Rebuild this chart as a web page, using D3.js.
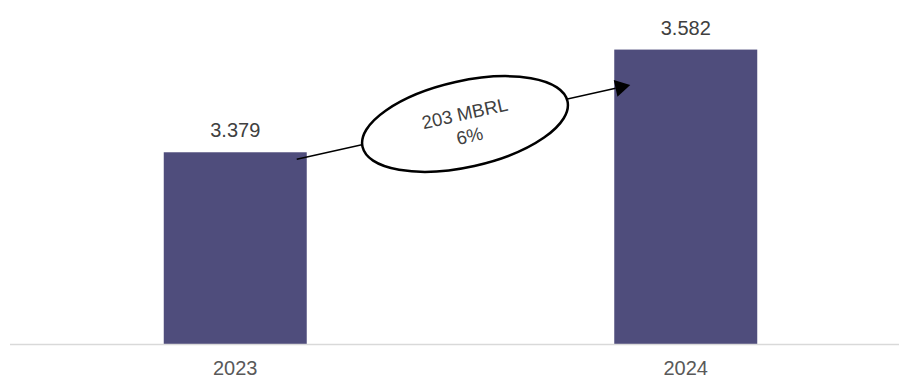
<!DOCTYPE html>
<html>
<head>
<meta charset="utf-8">
<script src="https://cdn.jsdelivr.net/npm/d3@7"></script>
<style>
  body { margin: 0; background: #fff; }
  svg { display: block; font-family: Arial, 'Liberation Sans', sans-serif; }
</style>
</head>
<body>
<svg id="chart" width="899" height="377"></svg>
<script>
let years = ['2023', '2024'];
let values = [3.379, 3.582];

let width = 899, height = 377;
let svg = d3.select('#chart');

let x = d3.scaleBand()
	.domain(years)
	.range([10, 911])
	.paddingInner(0.6826)
	.paddingOuter(0.3413);

let y = d3.scaleLinear()
	.domain([3.0, 3.68])
	.range([344, 0]);

let data = years.map(function (d, i) { return {year: d, value: values[i]}; });

// bars
svg.selectAll('.bar')
	.data(data)
	.enter().append('rect')
	.attr('class', 'bar')
	.attr('x', function (d) { return x(d.year); })
	.attr('y', function (d) { return y(d.value); })
	.attr('width', x.bandwidth())
	.attr('height', function (d) { return y(3.0) - y(d.value); })
	.attr('fill', '#4f4d7c');

// baseline
svg.append('line')
	.attr('x1', 10)
	.attr('x2', width)
	.attr('y1', y(3.0) + 0.5)
	.attr('y2', y(3.0) + 0.5)
	.attr('stroke', '#d9d9d9')
	.attr('stroke-width', 1.5);

// value labels
let fmt = d3.format('.3f');
svg.selectAll('.val')
	.data(data)
	.enter().append('text')
	.attr('class', 'val')
	.attr('x', function (d) { return x(d.year) + x.bandwidth() / 2; })
	.attr('y', function (d) { return y(d.value) - 15; })
	.attr('text-anchor', 'middle')
	.attr('font-size', 20)
	.attr('fill', '#404040')
	.text(function (d) { return fmt(d.value); });

// category labels
svg.selectAll('.year')
	.data(data)
	.enter().append('text')
	.attr('class', 'year')
	.attr('x', function (d) { return x(d.year) + x.bandwidth() / 2; })
	.attr('y', 374.5)
	.attr('text-anchor', 'middle')
	.attr('font-size', 20)
	.attr('fill', '#595959')
	.text(function (d) { return d.year; });

// growth arrow
let x0 = x(years[0]) + x.bandwidth() - 10, y0 = y(values[0]) + 7;
let x1 = x(years[1]) + 16, y1 = y(values[1]) + 35.5;
let ang = Math.atan2(y1 - y0, x1 - x0);
let headLen = 15, headHalf = 8.5;
let bx = x1 - headLen * Math.cos(ang), by = y1 - headLen * Math.sin(ang);

svg.append('line')
	.attr('x1', x0).attr('y1', y0)
	.attr('x2', bx).attr('y2', by)
	.attr('stroke', '#000')
	.attr('stroke-width', 1.5);

svg.append('path')
	.attr('d', 'M' + x1 + ',' + y1 +
		'L' + (bx + headHalf * Math.sin(ang)) + ',' + (by - headHalf * Math.cos(ang)) +
		'L' + (bx - headHalf * Math.sin(ang)) + ',' + (by + headHalf * Math.cos(ang)) + 'Z')
	.attr('fill', '#000');

// ellipse with difference
let diff = values[1] - values[0];
let pct = diff / values[0];
let cx = 465, cy = 124;
let deg = ang * 180 / Math.PI;
let g = svg.append('g')
	.attr('transform', 'translate(' + cx + ',' + cy + ') rotate(' + deg + ')');

g.append('ellipse')
	.attr('rx', 105)
	.attr('ry', 43)
	.attr('fill', '#fff')
	.attr('stroke', '#000')
	.attr('stroke-width', 2.5);

g.append('text')
	.attr('x', 2)
	.attr('y', -4)
	.attr('text-anchor', 'middle')
	.attr('font-size', 18.5)
	.attr('fill', '#404040')
	.text(Math.round(diff * 1000) + ' MBRL');

g.append('text')
	.attr('x', 2)
	.attr('y', 19)
	.attr('text-anchor', 'middle')
	.attr('font-size', 18.5)
	.attr('fill', '#404040')
	.text(d3.format('.0%')(pct));
</script>
</body>
</html>
